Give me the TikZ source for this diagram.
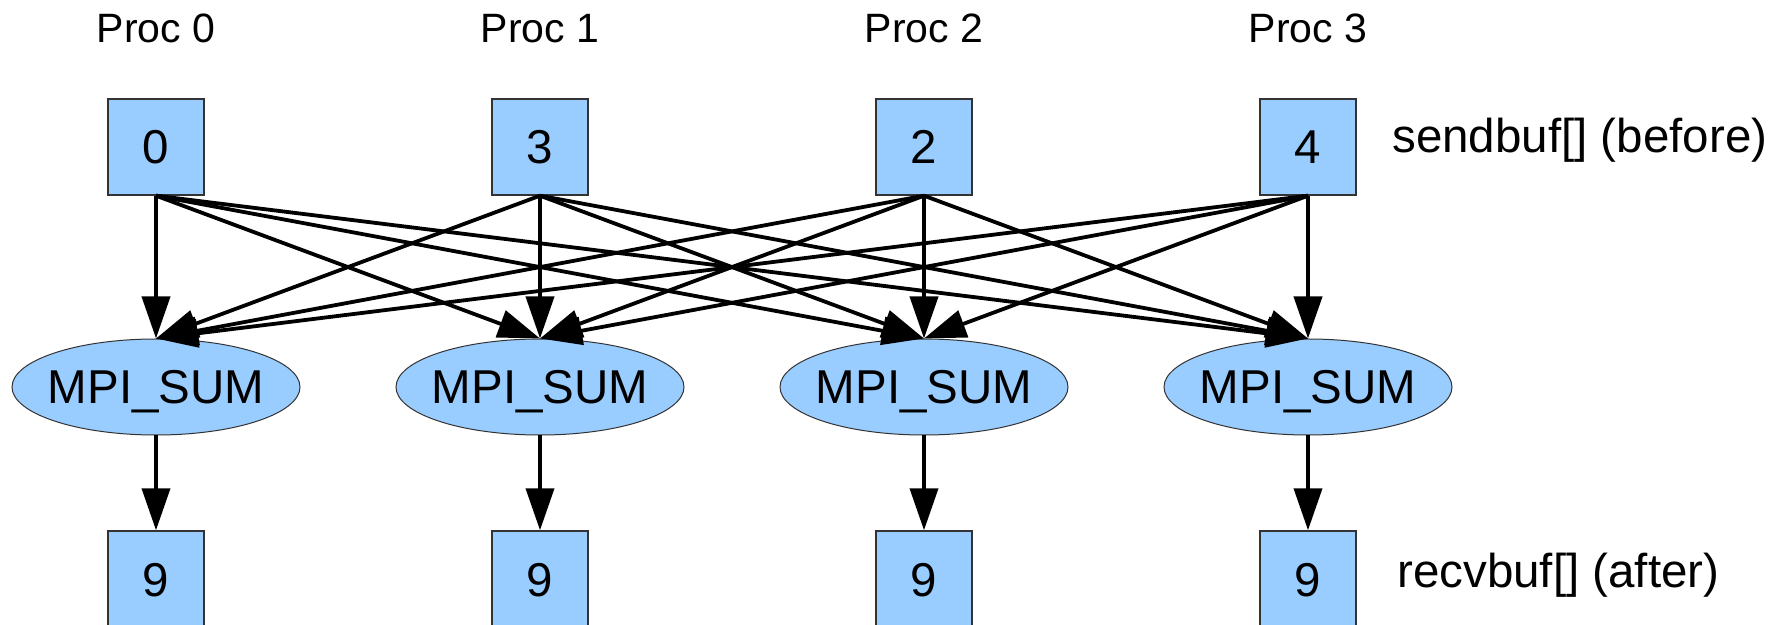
\documentclass[tikz,border=0pt]{standalone}
\usepackage{fontspec}
\setmainfont{Liberation Sans}
\usetikzlibrary{arrows.meta,shapes.geometric}
\definecolor{boxblue}{HTML}{99CCFF}
\definecolor{edgegray}{HTML}{333333}
\tikzset{
  bigfont/.style={font=\fontsize{23.75pt}{28pt}\selectfont},
  procfont/.style={font=\fontsize{20.5pt}{24pt}\selectfont},
  valbox/.style={draw=edgegray, line width=0.7pt, fill=boxblue, rectangle,
    minimum width=48pt, minimum height=48pt, inner sep=0pt, bigfont,
    text height=17pt, text depth=0pt},
  sumnode/.style={draw=edgegray, line width=0.5pt, fill=boxblue, ellipse,
    minimum width=144pt, minimum height=48pt, inner sep=0pt, bigfont,
    text height=17pt, text depth=0pt, text width=0pt, align=center},
  link/.style={line width=1.9pt, -{Triangle[length=21pt,width=14pt]}},
}
\begin{document}
\begin{tikzpicture}[x=0.5pt,y=-0.5pt]
\useasboundingbox (0,0) rectangle (1788,625);
% proc labels
\node[procfont, anchor=base] (p0) at (156,43) {Proc 0};
\node[procfont, anchor=base] (p1) at (540,43) {Proc 1};
\node[procfont, anchor=base] (p2) at (924,43) {Proc 2};
\node[procfont, anchor=base] (p3) at (1308,43) {Proc 3};
% send buffers
\node[valbox] (s0) at (156,147) {0};
\node[valbox] (s1) at (540,147) {3};
\node[valbox] (s2) at (924,147) {2};
\node[valbox] (s3) at (1308,147) {4};
% reductions
\node[sumnode] (m0) at (156,387) {\makebox[0pt]{MPI\_SUM}};
\node[sumnode] (m1) at (540,387) {\makebox[0pt]{MPI\_SUM}};
\node[sumnode] (m2) at (924,387) {\makebox[0pt]{MPI\_SUM}};
\node[sumnode] (m3) at (1308,387) {\makebox[0pt]{MPI\_SUM}};
% receive buffers
\node[valbox] (r0) at (156,579) {9};
\node[valbox] (r1) at (540,579) {9};
\node[valbox] (r2) at (924,579) {9};
\node[valbox] (r3) at (1308,579) {9};
% side labels
\node[bigfont, anchor=base west, inner sep=0pt] (sl) at (1392,153) {sendbuf[] (before)};
\node[bigfont, anchor=base west, inner sep=0pt] (rl) at (1397,587) {recvbuf[] (after)};
% connectors
\foreach \i in {0,1,2,3}{
  \foreach \j in {0,1,2,3}{
    \draw[link] (s\i.south) -- (m\j.north);
  }
  \draw[link] (m\i.south) -- (r\i.north);
}
\end{tikzpicture}
\end{document}
